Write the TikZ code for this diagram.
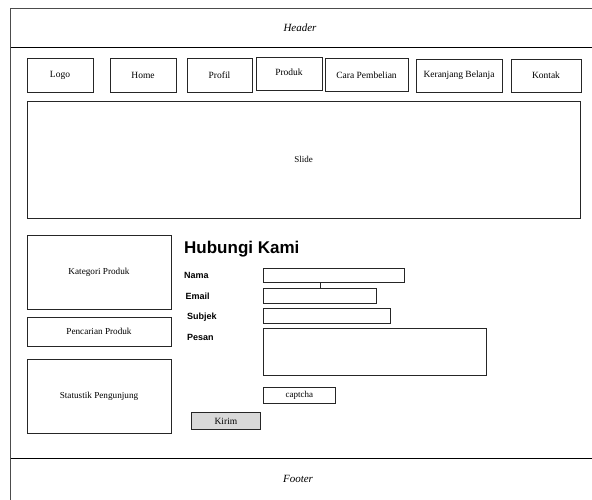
\documentclass[tikz,border=0pt]{standalone}
\usepackage{fontspec}
\setmainfont{Liberation Serif}
\newfontfamily\labelfont{Liberation Sans}
\begin{document}
\begin{tikzpicture}[x=1pt,y=-1pt,
  box/.style={draw=black!85,line width=0.9pt,fill=white,inner sep=0pt,font=\fontsize{9.5}{11}\selectfont},
  frame/.style={draw=black!70,line width=1pt},
  sep/.style={draw=black,line width=1pt},
  lbl/.style={anchor=west,inner sep=0pt,font=\labelfont\bfseries\fontsize{9}{10}\selectfont},
  ital/.style={inner sep=0pt,font=\itshape\fontsize{11}{13}\selectfont}]
\useasboundingbox (0,0) rectangle (592,500);
% outer frame
\draw[frame] (592,9) -- (10.5,9) -- (10.5,500);
\draw[sep] (10.5,48) -- (592,48);
\draw[sep] (10.5,458) -- (592,458);
\node[ital] (header) at (300,28) {Header};
\node[ital] (footer) at (298,479) {Footer};
% navigation
\node[box,minimum width=66pt,minimum height=34pt] (logo) at (60,75) {Logo};
\node[box,minimum width=66pt,minimum height=34pt] (home) at (143,75) {Home};
\node[box,minimum width=65pt,minimum height=34pt] (profil) at (219.5,75) {Profil};
\node[box,minimum width=66pt,minimum height=33pt] (produk) at (289,73.5) {\raisebox{2pt}{Produk}};
\node[box,minimum width=83pt,minimum height=33pt] (cara) at (366.5,75) {Cara Pembelian};
\node[box,minimum width=86pt,minimum height=33pt] (keranjang) at (459,75.5) {Keranjang Belanja};
\node[box,minimum width=70pt,minimum height=33pt] (kontak) at (546,75.5) {Kontak};
% slide
\node[box,minimum width=553pt,minimum height=117pt,font=\fontsize{9}{11}\selectfont] (slide) at (303.5,159.5) {Slide};
% left column
\node[box,minimum width=144pt,minimum height=74pt,font=\fontsize{9.2}{11}\selectfont] (kategori) at (99,272) {Kategori Produk};
\node[box,minimum width=144pt,minimum height=29pt,font=\fontsize{9.2}{11}\selectfont] (pencarian) at (99,331.5) {Pencarian Produk};
\node[box,minimum width=144pt,minimum height=74pt,font=\fontsize{9.2}{11}\selectfont] (statistik) at (99,396) {Statustik Pengunjung};
% contact form
\node[anchor=base west,inner sep=0pt,font=\labelfont\bfseries\fontsize{17}{19}\selectfont] (title) at (184,253) {Hubungi Kami};
\node[lbl] (lnama) at (184,275) {Nama};
\node[lbl] (lemail) at (185.5,296) {Email};
\node[lbl] (lsubjek) at (187,317) {Subjek};
\node[lbl] (lpesan) at (187,337) {Pesan};
\node[box,anchor=north west,minimum width=141pt,minimum height=14pt] (fnama) at (263,268) {};
\node[box,anchor=north west,minimum width=113pt,minimum height=15pt] (femail) at (263,288) {};
\node[box,anchor=north west,minimum width=127pt,minimum height=15pt] (fsubjek) at (263,308) {};
\node[box,anchor=north west,minimum width=223pt,minimum height=47pt] (fpesan) at (263,328) {};
\draw[draw=black!85,line width=0.9pt] (femail.north) -- (femail.north |- fnama.south);
\node[box,anchor=north west,minimum width=72pt,minimum height=16pt,font=\fontsize{9}{11}\selectfont] (captcha) at (263,387) {captcha};
\node[box,anchor=north west,fill=black!15,minimum width=69pt,minimum height=17pt,font=\fontsize{9.5}{11}\selectfont] (kirim) at (191,412) {Kirim};
\end{tikzpicture}
\end{document}
